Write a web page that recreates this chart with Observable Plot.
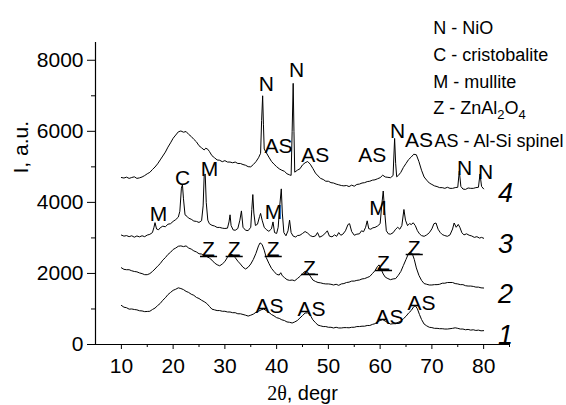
<!DOCTYPE html>
<html><head><meta charset="utf-8">
<script src="https://cdn.jsdelivr.net/npm/d3@7"></script>
<script src="https://cdn.jsdelivr.net/npm/@observablehq/plot@0.6"></script>
<style>body{margin:0;background:#fff}</style>
</head><body><div id="chart"></div>
<script>
// ---- data: XRD patterns (2theta, intensity) ----
const curve1 = [[10,1100],[10.5,1050],[11,1035],[11.5,995],[12,1000],[12.5,985],[13,975],[13.5,950],[14,945],[14.5,925],[15,930],[15.5,935],[16,985],[16.5,1025],[17,1095],[17.5,1155],[18,1245],[18.5,1315],[19,1405],[19.5,1465],[20,1525],[20.5,1555],[21,1595],[21.5,1575],[22,1545],[22.5,1495],[23,1465],[23.5,1415],[24,1385],[24.5,1325],[25,1295],[25.5,1245],[26,1205],[26.5,1155],[27,1075],[27.5,995],[28,975],[28.5,955],[29,955],[29.5,935],[30,935],[30.5,915],[31,915],[31.5,895],[32,895],[32.5,865],[33,865],[33.5,845],[34,825],[34.5,800],[35,825],[35.5,855],[36,905],[36.5,935],[37,975],[37.5,1000],[38,955],[38.5,905],[39,845],[39.5,805],[40,755],[40.5,735],[41,695],[41.5,675],[42,635],[42.5,625],[43,605],[43.5,635],[44,675],[44.5,745],[45,815],[45.5,885],[46,890],[46.5,825],[47,695],[47.5,615],[48,545],[48.5,525],[49,505],[49.5,505],[50,485],[50.5,485],[51,465],[51.5,485],[52,465],[52.5,465],[53,475],[53.5,475],[54,470],[54.5,485],[55,485],[55.5,505],[56,505],[56.5,515],[57,515],[57.5,535],[58,535],[58.5,565],[59,585],[59.5,645],[60,675],[60.5,705],[61,655],[61.5,615],[62,575],[62.5,585],[63,585],[63.5,625],[64,655],[64.5,725],[65,795],[65.5,885],[66,955],[66.5,1065],[66.8,1090],[67.2,1005],[67.6,845],[68,705],[68.5,575],[69,525],[69.5,485],[70,475],[70.5,455],[71,455],[71.5,445],[72,445],[72.5,435],[73,435],[73.5,445],[74,455],[74.5,470],[75,455],[75.5,435],[76,435],[76.5,415],[77,425],[77.5,405],[78,415],[78.5,395],[79,405],[79.5,385],[80,390]];

const curve2 = [[10,2160],[10.5,2115],[11,2105],[11.5,2105],[12,2075],[12.5,2055],[13,2045],[13.5,2015],[14,1995],[14.5,1965],[15,1965],[15.5,1995],[16,2055],[16.5,2125],[17,2205],[17.5,2275],[18,2375],[18.5,2445],[19,2535],[19.5,2595],[20,2675],[20.5,2715],[21,2765],[21.5,2775],[22,2755],[22.5,2775],[23,2715],[23.5,2685],[24,2635],[24.5,2605],[25,2555],[25.5,2545],[26,2495],[26.5,2475],[27,2435],[27.5,2375],[28,2295],[28.5,2245],[29,2215],[29.5,2265],[30,2335],[30.5,2455],[31,2540],[31.5,2525],[32,2445],[32.5,2345],[33,2265],[33.5,2175],[34,2125],[34.5,2175],[35,2265],[35.5,2395],[36,2565],[36.5,2775],[36.8,2860],[37.2,2815],[37.6,2655],[38,2445],[38.5,2285],[39,2145],[39.5,2055],[40,1975],[40.5,1955],[40.8,2020],[41.1,1935],[41.5,1885],[42,1825],[42.5,1805],[43,1815],[43.5,1795],[44,1855],[44.5,1915],[45,1995],[45.5,2060],[46,2035],[46.5,1925],[47,1815],[47.5,1775],[48,1745],[48.5,1735],[49,1715],[49.5,1705],[50,1705],[50.5,1695],[51,1675],[51.5,1695],[52,1665],[52.5,1705],[53,1715],[53.5,1745],[54,1755],[54.5,1785],[55,1785],[55.5,1805],[56,1815],[56.5,1845],[57,1855],[57.5,1885],[58,1915],[58.5,1995],[59,2075],[59.5,2200],[59.8,2240],[60.2,2115],[60.6,1985],[61,1895],[61.5,1855],[62,1825],[62.5,1845],[63,1855],[63.5,1945],[64,2055],[64.5,2225],[65,2395],[65.5,2565],[65.8,2590],[66.2,2560],[66.6,2395],[67,2155],[67.5,1945],[68,1805],[68.5,1715],[69,1695],[69.5,1675],[70,1675],[70.5,1685],[71,1685],[71.5,1695],[72,1725],[72.5,1725],[73,1745],[73.5,1745],[74,1745],[74.5,1715],[75,1705],[75.5,1685],[76,1685],[76.5,1655],[77,1645],[77.5,1645],[78,1635],[78.5,1615],[79,1615],[79.5,1595],[80,1590]];

const curve3 = [[10,3080],[10.5,3050],[11,3065],[11.5,3035],[12,3060],[12.5,3020],[13,3055],[13.5,3030],[14,3060],[14.5,3035],[15,3080],[15.5,3100],[16,3150],[16.3,3300],[16.5,3430],[16.8,3250],[17.2,3230],[17.5,3285],[18,3330],[18.5,3315],[19,3385],[19.5,3400],[20,3465],[20.5,3515],[21,3585],[21.3,3750],[21.6,4400],[21.8,4500],[22,4100],[22.3,3650],[22.7,3605],[23,3555],[23.5,3525],[24,3475],[24.5,3465],[25,3435],[25.5,3485],[25.8,3900],[26,4750],[26.2,4800],[26.4,4000],[26.7,3500],[27,3400],[27.5,3355],[28,3335],[28.5,3295],[29,3295],[29.5,3275],[30,3265],[30.5,3275],[30.8,3450],[31,3650],[31.2,3350],[31.6,3225],[32,3215],[32.5,3265],[32.9,3500],[33.2,3760],[33.5,3300],[34,3215],[34.5,3205],[35,3300],[35.2,3800],[35.4,4220],[35.6,3700],[35.9,3350],[36.3,3385],[36.7,3600],[36.9,3690],[37.2,3500],[37.6,3300],[38,3235],[38.5,3185],[39,3255],[39.3,3450],[39.6,3150],[40,3125],[40.3,3300],[40.6,3900],[40.9,4380],[41.1,3700],[41.4,3150],[41.8,3060],[42.2,3200],[42.5,3500],[42.8,3150],[43.2,3050],[43.7,3025],[44,3065],[44.5,3075],[45,3125],[45.5,3180],[46,3135],[46.5,3065],[47,3035],[47.5,3055],[47.9,3150],[48.3,3020],[48.8,3055],[49.3,3115],[49.8,3200],[50.2,3050],[50.7,3030],[51.2,3085],[51.6,3045],[52,3150],[52.4,3075],[52.8,3105],[53.3,3200],[53.8,3380],[54.1,3400],[54.5,3180],[55,3075],[55.5,3105],[56,3115],[56.4,3200],[56.8,3175],[57.2,3300],[57.5,3480],[57.8,3260],[58.2,3245],[58.6,3285],[59,3295],[59.5,3335],[60,3400],[60.3,3900],[60.6,4320],[60.9,3700],[61.2,3200],[61.6,3115],[62,3105],[62.5,3145],[63,3245],[63.4,3300],[63.8,3245],[64.2,3350],[64.6,3800],[64.9,3500],[65.3,3345],[65.7,3405],[66,3375],[66.4,3425],[66.8,3345],[67.2,3205],[67.6,3115],[68,3065],[68.5,3045],[69,3085],[69.5,3145],[70,3255],[70.4,3400],[70.8,3420],[71.2,3245],[71.6,3155],[72,3095],[72.5,3065],[73,3045],[73.5,3085],[74,3250],[74.3,3420],[74.7,3300],[75.1,3380],[75.4,3300],[75.8,3145],[76.2,3085],[76.7,3115],[77.2,3075],[77.7,3055],[78.2,3015],[78.7,3035],[79.2,2995],[79.6,3015],[80,2990]];

const curve4 = [[10,4700],[10.5,4685],[11,4710],[11.5,4675],[12,4700],[12.5,4720],[13,4675],[13.5,4690],[14,4715],[14.5,4755],[15,4805],[15.5,4845],[16,4925],[16.5,4995],[17,5085],[17.5,5195],[18,5305],[18.5,5415],[19,5555],[19.5,5675],[20,5805],[20.5,5895],[21,5985],[21.5,6010],[22,5975],[22.5,5995],[23,5915],[23.5,5855],[24,5775],[24.5,5705],[25,5595],[25.5,5535],[26,5475],[26.3,5525],[26.7,5495],[27,5435],[27.5,5315],[28,5255],[28.5,5195],[29,5185],[29.5,5145],[30,5175],[30.5,5135],[31,5135],[31.5,5115],[32,5135],[32.5,5095],[33,5095],[33.5,5065],[34,5045],[34.5,5005],[35,5000],[35.5,5065],[36,5145],[36.5,5255],[36.9,5380],[37.1,6300],[37.3,7000],[37.45,6200],[37.6,5500],[38,5400],[38.5,5275],[39,5155],[39.5,5075],[40,5005],[40.5,4945],[41,4905],[41.5,4875],[42,4805],[42.5,4775],[42.8,4760],[43,6000],[43.2,7350],[43.35,6000],[43.5,4850],[44,4905],[44.5,4945],[45,5055],[45.5,5115],[46,5150],[46.5,5075],[47,4955],[47.5,4825],[48,4745],[48.5,4675],[49,4645],[49.5,4595],[50,4595],[50.5,4555],[51,4545],[51.5,4515],[52,4495],[52.5,4475],[53,4465],[53.5,4475],[54,4445],[54.5,4485],[55,4455],[55.5,4505],[56,4515],[56.5,4545],[57,4555],[57.5,4585],[58,4595],[58.5,4625],[59,4635],[59.5,4665],[60,4695],[60.5,4765],[61,4715],[61.5,4705],[62,4695],[62.5,4755],[62.8,5800],[63,5100],[63.2,4720],[63.5,4755],[64,4845],[64.5,4985],[65,5095],[65.5,5205],[66,5275],[66.5,5355],[67,5340],[67.5,5145],[68,4905],[68.5,4715],[69,4625],[69.5,4545],[70,4505],[70.5,4465],[71,4445],[71.5,4415],[72,4415],[72.5,4395],[73,4425],[73.5,4395],[74,4395],[74.5,4415],[75,4425],[75.3,4880],[75.6,4450],[76,4375],[76.5,4365],[77,4405],[77.5,4395],[78,4395],[78.5,4415],[79,4425],[79.3,4800],[79.6,4450],[80,4380]];

// ---- axis ticks ----
const xMajor = [10, 20, 30, 40, 50, 60, 70, 80];
const xMinor = [15, 25, 35, 45, 55, 65, 75, 85];
const yMajor = [0, 2000, 4000, 6000, 8000];
const yMinor = [1000, 3000, 5000, 7000];

// ---- annotation labels (phase letters) ----
const labels4 = [
  {t: "N", x: 38.0, y: 7121}, {t: "N", x: 43.84, y: 7543},
  {t: "AS", x: 40.36, y: 5376}, {t: "AS", x: 47.45, y: 5123},
  {t: "AS", x: 58.47, y: 5123}, {t: "N", x: 63.35, y: 5826},
  {t: "AS", x: 67.5, y: 5545}, {t: "N", x: 76.3, y: 4757},
  {t: "N", x: 80.36, y: 4672}
];
const labels3 = [
  {t: "M", x: 17.17, y: 3462}, {t: "C", x: 21.81, y: 4503},
  {t: "M", x: 27.03, y: 4729}, {t: "M", x: 39.4, y: 3546},
  {t: "M", x: 59.59, y: 3631}
];
const labels2 = [
  {t: "Z", x: 26.84, y: 2477}, {t: "Z", x: 31.8, y: 2477},
  {t: "Z", x: 39.34, y: 2477}, {t: "Z", x: 46.35, y: 1970},
  {t: "Z", x: 60.65, y: 2083}, {t: "Z", x: 66.59, y: 2533}
];
const labels1 = [
  {t: "AS", x: 38.62, y: 873}, {t: "AS", x: 46.74, y: 816},
  {t: "AS", x: 61.81, y: 563}, {t: "AS", x: 68.0, y: 985}
];
const curveNames = [
  {t: "4", x: 84.23, y: 3997}, {t: "3", x: 84.23, y: 2589},
  {t: "2", x: 84.23, y: 1182}, {t: "1", x: 84.23, y: 28}
];
const legendLines = [
  {t: "N - NiO", x: 70.26, y: 8753},
  {t: "C - cristobalite", x: 70.26, y: 7993},
  {t: "M - mullite", x: 70.26, y: 7233},
  {t: "Z - ZnAl2O4", x: 70.26, y: 6474},
  {t: "AS - Al-Si spinel", x: 70.5, y: 5545}
];
const xTitle = "2θ, degr";
const yTitle = "I, a.u.";

const rows = [curve1, curve2, curve3, curve4].flatMap((c, k) => c.map(([x, y]) => ({x, y, id: k + 1})));
const allLabels = [...labels4, ...labels3, ...labels2, ...labels1];

const svg = Plot.plot({
  width: 566, height: 405,
  marginLeft: 95, marginRight: 57, marginTop: 42, marginBottom: 61,
  x: {domain: [5, 85], label: null},
  y: {domain: [0, 8500], label: null},
  style: {fontFamily: "'Liberation Sans', Arial, sans-serif", background: "white", color: "black", overflow: "visible"},
  marks: [
    Plot.ruleX([5], {stroke: "black", strokeWidth: 1.2}),
    Plot.ruleY([0], {stroke: "black", strokeWidth: 1.2}),
    Plot.axisX({ticks: xMajor, tickSize: 5, tickPadding: 9, fontSize: 21, label: null, stroke: "black", fill: "black"}),
    Plot.axisX({ticks: xMinor, tickSize: 3, tickFormat: () => "", label: null, stroke: "black"}),
    Plot.axisY({ticks: yMajor, tickSize: 8, tickPadding: 4, fontSize: 21, label: null, tickFormat: d => String(d), stroke: "black", fill: "black"}),
    Plot.axisY({ticks: yMinor, tickSize: 4, tickFormat: () => "", label: null, stroke: "black"}),
    Plot.line(rows, {x: "x", y: "y", z: "id", stroke: "black", strokeWidth: 1}),
    Plot.ruleY(labels2, {y: "y", x1: d => d.x - 1.55, x2: d => d.x + 1.75, stroke: "black", strokeWidth: 1.5}),
    Plot.text(allLabels, {x: "x", y: "y", text: "t", fontSize: 21, lineAnchor: "bottom", textAnchor: "middle", fill: "black"}),
    Plot.text(curveNames, {x: "x", y: "y", text: "t", fontSize: 27, fontStyle: "italic", lineAnchor: "bottom", textAnchor: "middle", fill: "black"}),
    Plot.text(legendLines, {x: "x", y: "y", text: "t", fontSize: 18, lineAnchor: "bottom", textAnchor: "start", fill: "black"}),
    Plot.text([xTitle], {frameAnchor: "bottom", dy: 55, lineAnchor: "bottom", fontSize: 20, fill: "black"}),
    Plot.text([yTitle], {frameAnchor: "left", dx: -68, dy: -20, rotate: -90, lineAnchor: "bottom", fontSize: 21, fill: "black"})
  ]
});

// rich text: subscripts and serif theta
const NS = "http://www.w3.org/2000/svg";
function rebuild(t, parts) {
  while (t.firstChild) t.removeChild(t.firstChild);
  for (const p of parts) {
    const s = document.createElementNS(NS, "tspan");
    s.textContent = p.text;
    for (const [k, v] of Object.entries(p.attrs || {})) s.setAttribute(k, v);
    t.appendChild(s);
  }
}
for (const t of svg.querySelectorAll("text")) {
  if (t.textContent === "Z - ZnAl2O4") {
    rebuild(t, [
      {text: "Z - ZnAl"},
      {text: "2", attrs: {dy: "5", "font-size": "13"}},
      {text: "O", attrs: {dy: "-5"}},
      {text: "4", attrs: {dy: "5", "font-size": "13"}}
    ]);
  } else if (t.textContent === xTitle) {
    rebuild(t, [
      {text: "2θ", attrs: {"font-family": "'Liberation Serif', 'Times New Roman', serif"}},
      {text: ", degr"}
    ]);
  }
}
document.getElementById("chart").appendChild(svg);
</script>
</body></html>
